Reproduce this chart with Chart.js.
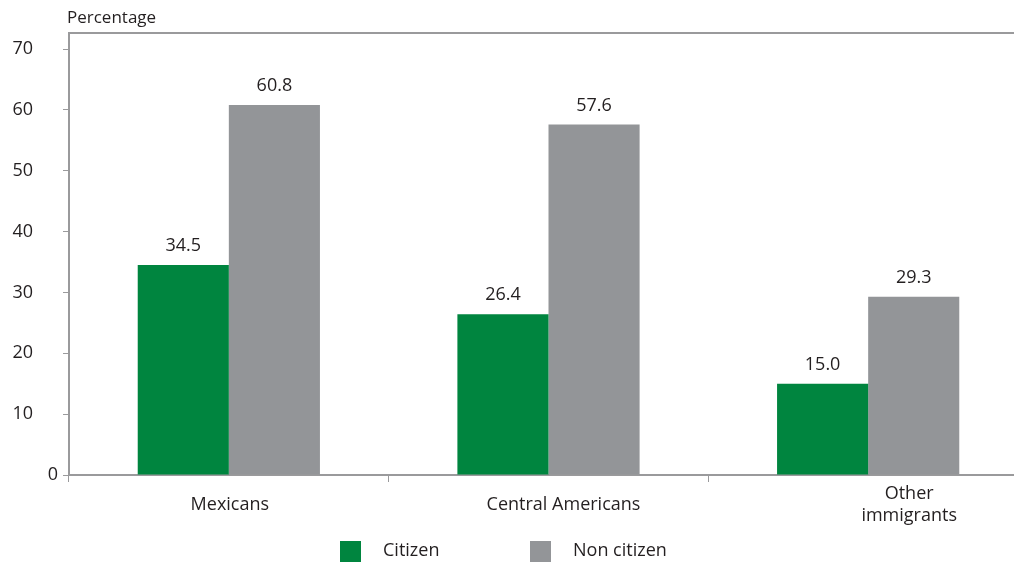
<!DOCTYPE html>
<html>
<head>
<meta charset="utf-8">
<script src="https://cdn.jsdelivr.net/npm/chart.js@4/dist/chart.umd.min.js"></script>
<style>
    html, body { margin: 0; padding: 0; background: #fff; overflow: hidden; }
    #wrap { width: 1028px; height: 562px; position: relative; }
</style>
</head>
<body>
<div id="wrap"><canvas id="grafico"></canvas></div>
<script>
// Dados
const categorias = [['Mexicans'], ['Central Americans'], ['Other', 'immigrants']];
const series = ['Citizen', 'Non citizen'];
const citizen = [34.5, 26.4, 15.0];
const nonCitizen = [60.8, 57.6, 29.3];
const yTicks = [0, 10, 20, 30, 40, 50, 60, 70];
const yTitulo = 'Percentage';

const cores = ['#00853f', '#939598'];
const corEixo = '#9a9a9c';
const corTexto = '#231f20';
const fonte = '"Open Sans", sans-serif';
const deslocRotulo = [1, 15, 41]; // rótulos do eixo x não ficam centrados no original

// Textos desenhados no canvas: rótulos, valores, legenda
const textosPlugin = {
    id: 'textos',
    afterDraw(chart) {
        const { ctx, chartArea, scales } = chart;
        ctx.save();

        // linha superior
        ctx.strokeStyle = corEixo;
        ctx.lineWidth = 2;
        ctx.beginPath();
        ctx.moveTo(chartArea.left, chartArea.top);
        ctx.lineTo(chartArea.right, chartArea.top);
        ctx.stroke();

        ctx.fillStyle = corTexto;

        // título do eixo y
        ctx.textAlign = 'left';
        ctx.textBaseline = 'middle';
        ctx.font = '17px ' + fonte;
        ctx.fillText(yTitulo, 67, 18);
        ctx.font = '18px ' + fonte;

        // rótulos do eixo y
        ctx.textAlign = 'right';
        yTicks.forEach(v => {
            const y = scales.y.getPixelForValue(v);
            ctx.fillText(String(v), v === 0 ? 58 : 33, y);
        });

        // rótulos do eixo x
        ctx.textAlign = 'center';
        categorias.forEach((linhas, i) => {
            const x = scales.x.getPixelForValue(i) + deslocRotulo[i];
            const alt = 22;
            const y0 = 505 - (linhas.length - 1) * alt / 2;
            linhas.forEach((t, j) => ctx.fillText(t, x, y0 + j * alt));
        });

        // valores sobre as barras
        chart.data.datasets.forEach((ds, di) => {
            chart.getDatasetMeta(di).data.forEach((bar, i) => {
                ctx.fillText(ds.data[i].toFixed(1), bar.x, bar.y - 19);
            });
        });

        // legenda
        ctx.textAlign = 'left';
        series.forEach((nome, i) => {
            const bx = 340 + i * 190;
            ctx.fillStyle = cores[i];
            ctx.fillRect(bx, 541, 21, 21);
            ctx.fillStyle = corTexto;
            ctx.fillText(nome, bx + 43, 551);
        });

        ctx.restore();
    }
};

new Chart(document.getElementById('grafico'), {
    type: 'bar',
    data: {
        labels: categorias,
        datasets: [
            { label: series[0], data: citizen, backgroundColor: cores[0] },
            { label: series[1], data: nonCitizen, backgroundColor: cores[1] }
        ]
    },
    options: {
        responsive: true,
        maintainAspectRatio: false,
        animation: false,
        layout: { padding: { top: 33, right: 0, left: 0, bottom: 0 } },
        datasets: {
            bar: { categoryPercentage: 0.57, barPercentage: 1.0 }
        },
        scales: {
            x: {
                grid: {
                    display: true,
                    drawOnChartArea: false,
                    drawTicks: true,
                    tickLength: 7,
                    tickColor: corEixo,
                    tickWidth: 1,
                    offset: true
                },
                border: { display: true, color: corEixo, width: 2 },
                ticks: { display: false },
                afterFit: scale => { scale.height = 87; }
            },
            y: {
                min: 0,
                max: 72.63,
                grid: {
                    display: true,
                    drawOnChartArea: false,
                    drawTicks: true,
                    tickLength: 6,
                    tickColor: corEixo,
                    tickWidth: 1
                },
                border: { display: true, color: corEixo, width: 2 },
                ticks: { display: false, stepSize: 10 },
                afterBuildTicks: axis => {
                    axis.ticks = yTicks.map(v => ({ value: v }));
                },
                afterFit: scale => { scale.width = 69; }
            }
        },
        plugins: {
            legend: { display: false },
            tooltip: { enabled: false }
        }
    },
    plugins: [textosPlugin]
});
</script>
</body>
</html>
